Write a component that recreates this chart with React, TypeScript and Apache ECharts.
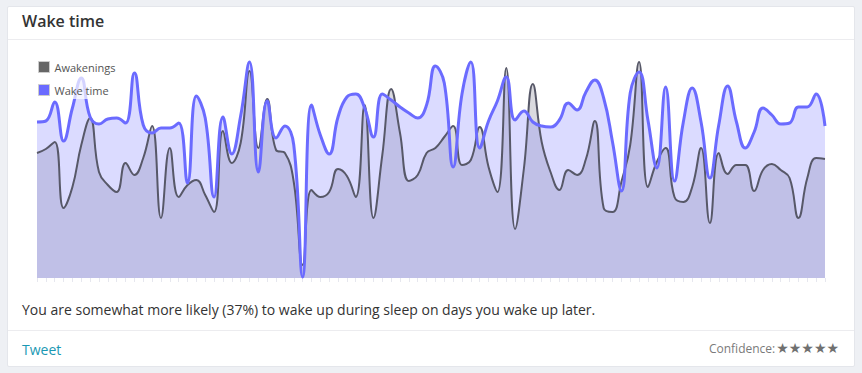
import React, { useEffect, useRef } from "react";
import * as echarts from "echarts";

const awakenings = [
  125, 129, 136, 70, 91, 133, 160, 106, 93, 86,
  115, 103, 120, 152, 60, 130, 81, 93, 98, 83,
  66, 147, 115, 135, 207, 130, 179, 128, 125, 96,
  13, 88, 81, 86, 109, 102, 81, 173, 60, 123,
  189, 145, 97, 103, 125, 130, 141, 152, 113, 118,
  151, 111, 86, 210, 49, 110, 194, 136, 106, 88,
  108, 103, 119, 157, 70, 66, 96, 133, 216, 91,
  116, 130, 81, 76, 91, 130, 55, 125, 104, 113,
  113, 87, 108, 114, 108, 100, 60, 100, 120, 119,
];

const wakeTime = [
  156, 157, 176, 137, 170, 200, 161, 154, 159, 160,
  155, 205, 153, 145, 150, 150, 155, 95, 182, 160,
  81, 161, 124, 162, 216, 106, 177, 140, 152, 133,
  1, 173, 143, 124, 161, 181, 184, 170, 141, 184,
  178, 171, 165, 160, 173, 212, 195, 111, 184, 216,
  130, 157, 177, 201, 158, 167, 156, 152, 151, 158,
  175, 168, 186, 198, 180, 136, 87, 185, 206, 158,
  110, 191, 97, 156, 190, 156, 100, 153, 192, 156,
  130, 146, 170, 163, 154, 155, 171, 171, 184, 152,
];

const days = awakenings.map((_, i) => String(i + 1));

const seriesNames = ["Awakenings", "Wake time"];

export default function App() {
  const ref = useRef<HTMLDivElement>(null);

  useEffect(() => {
    if (!ref.current) return;
    const chart = echarts.init(ref.current, null, { renderer: "svg" });
    chart.setOption({
      animation: false,
      grid: { left: 37, right: 37, top: 55, bottom: 95 },
      legend: {
        orient: "vertical",
        left: 36,
        top: 58,
        itemWidth: 11,
        itemHeight: 11,
        itemGap: 11,
        padding: [3, 4, 3, 2],
        backgroundColor: "rgba(255,255,255,0.7)",
        textStyle: { fontSize: 11, color: "#545454", fontFamily: "Open Sans" },
        data: [
          { name: seriesNames[0], icon: "rect", itemStyle: { color: "#666666", borderColor: "#cccccc", borderWidth: 1 } },
          { name: seriesNames[1], icon: "rect", itemStyle: { color: "#6b6bff", borderColor: "#cccccc", borderWidth: 1 } },
        ],
      },
      xAxis: {
        type: "category",
        boundaryGap: false,
        data: days,
        axisLine: { show: false },
        axisTick: { show: true, interval: 0, length: 4, lineStyle: { color: "#e6e7ee" } },
        axisLabel: { show: false },
        splitLine: { show: false },
      },
      yAxis: {
        type: "value",
        min: 0,
        max: 223,
        show: false,
        splitLine: { show: false },
      },
      series: [
        {
          name: seriesNames[0],
          type: "line",
          data: awakenings,
          smooth: 0.45,
          showSymbol: false,
          lineStyle: { color: "#575868", width: 2 },
          itemStyle: { color: "#666666" },
          areaStyle: { color: "rgba(90,90,110,0.32)" },
        },
        {
          name: seriesNames[1],
          type: "line",
          data: wakeTime,
          smooth: 0.45,
          showSymbol: false,
          lineStyle: { color: "#6b6bff", width: 3 },
          itemStyle: { color: "#6b6bff" },
          areaStyle: { color: "rgba(120,120,255,0.38)" },
        },
      ],
    });
    return () => chart.dispose();
  }, []);

  const font = "'Open Sans', sans-serif";

  return (
    <div style={{ position: "fixed", left: 0, top: 0, width: 862, height: 373, background: "#eef0f4", overflow: "hidden", fontFamily: font }}>
      <div style={{ position: "absolute", left: 7, top: 6, width: 846, height: 359, background: "#fff", border: "1px solid #e4e6eb", borderRadius: 2 }} />
      <div style={{ position: "absolute", left: 8, top: 39, width: 846, height: 1, background: "#ececef" }} />
      <div style={{ position: "absolute", left: 8, top: 330, width: 846, height: 1, background: "#ececef" }} />
      <div ref={ref} style={{ position: "absolute", left: 0, top: 0, width: 862, height: 373 }} />
      <div style={{ position: "absolute", left: 22, top: 10, fontSize: 16, fontWeight: 600, color: "#333" }}>Wake time</div>
      <div style={{ position: "absolute", left: 22, top: 300, fontSize: 14, color: "#333" }}>
        You are somewhat more likely (37%) to wake up during sleep on days you wake up later.
      </div>
      <div style={{ position: "absolute", left: 22, top: 340, fontSize: 14, color: "#1a98b3" }}>Tweet</div>
      <div style={{ position: "absolute", right: 23, top: 340, fontSize: 12, color: "#7a7a7a", whiteSpace: "nowrap" }}>
        Confidence:<span style={{ color: "#707070", fontFamily: "'DejaVu Sans', sans-serif", fontSize: 14, marginLeft: 1 }}>★★★★★</span>
      </div>
    </div>
  );
}
